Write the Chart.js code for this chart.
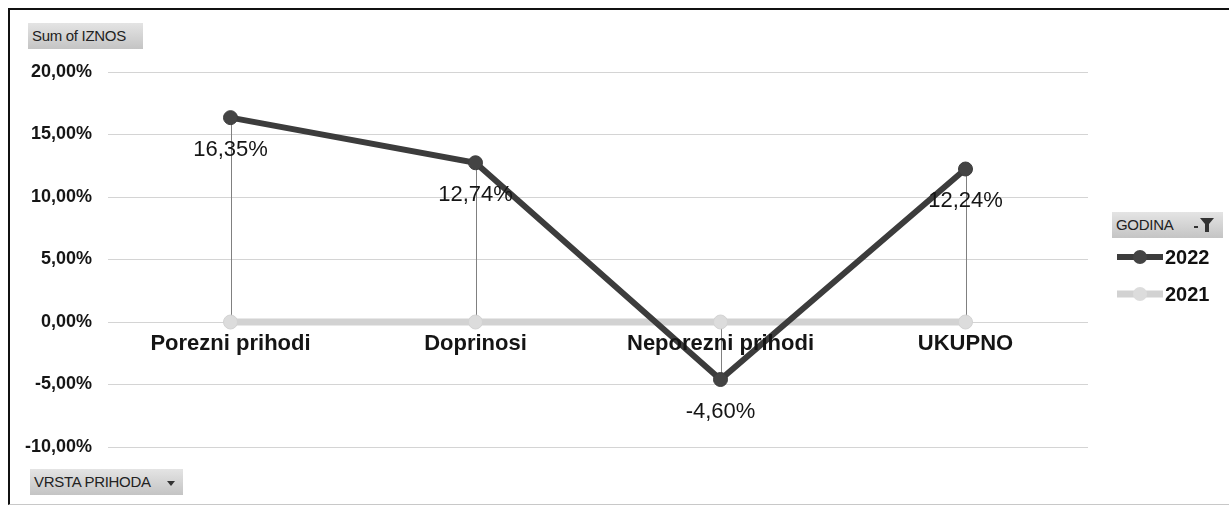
<!DOCTYPE html>
<html>
<head>
    <meta charset="utf-8" />
    <title>Sum of IZNOS</title>
    <script src="https://cdn.jsdelivr.net/npm/chart.js"></script>
    <style>
        body {
            margin: 0;
            background-color: #ffffff;
            font-family: "Liberation Sans", Arial, sans-serif;
        }
        .wrap {
            position: relative;
            width: 1229px;
            height: 507px;
        }
        .frame {
            position: absolute;
            left: 8px;
            top: 8px;
            right: -4px;
            bottom: 2px;
            border-left: 2px solid #111;
            border-top: 2px solid #111;
            border-bottom: 1px solid #c8c8c8;
            pointer-events: none;
        }
        .pill {
            position: absolute;
            background: linear-gradient(#e4e4e4, #c4c4c4);
            color: #222;
            font-size: 15px;
            line-height: 26px;
            padding-left: 4px;
            box-sizing: border-box;
            height: 26px;
            letter-spacing: -0.3px;
        }
        #sumLbl { left: 28px; top: 23px; width: 115px; }
        #vrstaLbl { left: 30px; top: 469px; width: 153px; }
        #godinaLbl { left: 1112px; top: 212px; width: 111px; }
        .pill svg { position: absolute; top: 6px; }
    </style>
</head>
<body>
    <div class="wrap">
        <canvas id="chart"></canvas>
        <div class="frame"></div>
        <div class="pill" id="sumLbl">Sum of IZNOS</div>
        <div class="pill" id="vrstaLbl">VRSTA PRIHODA
            <svg width="10" height="10" style="left:136px;top:9px"><path d="M1 3 L9 3 L5 8 Z" fill="#333"/></svg>
        </div>
        <div class="pill" id="godinaLbl">GODINA
            <svg width="26" height="16" style="left:80px;top:5px">
                <rect x="2" y="9" width="4" height="2" fill="#333"/>
                <path d="M8 1 L22 1 L17 7 L17 15 L13 15 L13 7 Z" fill="#333"/>
            </svg>
        </div>
    </div>
    <script>
        // chart data
        const categories = ['Porezni prihodi', 'Doprinosi', 'Neporezni prihodi', 'UKUPNO'];
        const values2022 = [16.35, 12.74, -4.60, 12.24];
        const values2021 = [0, 0, 0, 0];
        const seriesNames = ['2022', '2021'];
        const yTicks = [-10, -5, 0, 5, 10, 15, 20];

        function pct(v) {
            return v.toFixed(2).replace('.', ',') + '%';
        }

        // thin vertical lines from 2022 points down to zero
        const dropLines = {
            id: 'dropLines',
            beforeDatasetsDraw(chart) {
                const ctx = chart.ctx;
                const y = chart.scales.y;
                const meta = chart.getDatasetMeta(0);
                ctx.save();
                ctx.strokeStyle = '#808080';
                ctx.lineWidth = 1;
                meta.data.forEach((pt) => {
                    ctx.beginPath();
                    ctx.moveTo(Math.round(pt.x) + 0.5, pt.y);
                    ctx.lineTo(Math.round(pt.x) + 0.5, y.getPixelForValue(0));
                    ctx.stroke();
                });
                ctx.restore();
            }
        };

        // category names sit just under the zero line, values under the points
        const labelsPlugin = {
            id: 'labelsPlugin',
            afterDatasetsDraw(chart) {
                const ctx = chart.ctx;
                const x = chart.scales.x;
                const y = chart.scales.y;
                ctx.save();
                ctx.textAlign = 'center';
                ctx.textBaseline = 'middle';
                ctx.fillStyle = '#151515';
                ctx.font = 'bold 22px "Liberation Sans", Arial, sans-serif';
                categories.forEach((c, i) => {
                    ctx.fillText(c, x.getPixelForValue(i), y.getPixelForValue(0) + 22);
                });
                ctx.font = '22px "Liberation Sans", Arial, sans-serif';
                values2022.forEach((v, i) => {
                    ctx.fillText(pct(v), x.getPixelForValue(i), y.getPixelForValue(v) + 32);
                });
                ctx.restore();
            }
        };

        // legend at the right side, under the GODINA button
        const legendPlugin = {
            id: 'legendPlugin',
            afterDraw(chart) {
                const ctx = chart.ctx;
                ctx.save();
                ctx.font = 'bold 20px "Liberation Sans", Arial, sans-serif';
                ctx.textBaseline = 'middle';
                chart.data.datasets.forEach((ds, i) => {
                    const cy = 257 + i * 37;
                    ctx.strokeStyle = ds.borderColor;
                    ctx.lineWidth = ds.borderWidth;
                    ctx.beginPath();
                    ctx.moveTo(1117, cy);
                    ctx.lineTo(1163, cy);
                    ctx.stroke();
                    ctx.fillStyle = ds.pointBackgroundColor;
                    ctx.beginPath();
                    ctx.arc(1140, cy, 7, 0, Math.PI * 2);
                    ctx.fill();
                    ctx.fillStyle = '#111';
                    ctx.fillText(ds.label, 1165, cy + 1);
                });
                ctx.restore();
            }
        };

        const ctx = document.getElementById('chart').getContext('2d');
        new Chart(ctx, {
            type: 'line',
            data: {
                labels: categories,
                datasets: [
                    {
                        label: seriesNames[0],
                        data: values2022,
                        borderColor: '#3c3c3c',
                        backgroundColor: '#3c3c3c',
                        pointBackgroundColor: '#444444',
                        pointBorderColor: '#3c3c3c',
                        borderWidth: 6,
                        pointRadius: 7,
                        pointBorderWidth: 1,
                        tension: 0
                    },
                    {
                        label: seriesNames[1],
                        data: values2021,
                        borderColor: '#d2d2d2',
                        backgroundColor: '#d2d2d2',
                        pointBackgroundColor: '#dcdcdc',
                        pointBorderColor: '#d2d2d2',
                        borderWidth: 7,
                        pointRadius: 7,
                        pointBorderWidth: 1,
                        tension: 0,
                        order: 1
                    }
                ]
            },
            options: {
                responsive: true,
                maintainAspectRatio: false,
                animation: false,
                layout: {
                    padding: { left: 0, right: 141, top: 72, bottom: 60 }
                },
                plugins: {
                    legend: { display: false },
                    tooltip: { enabled: false }
                },
                scales: {
                    x: {
                        display: false,
                        offset: true
                    },
                    y: {
                        min: -10,
                        max: 20,
                        afterBuildTicks(scale) {
                            scale.ticks = yTicks.map(v => ({ value: v }));
                        },
                        afterFit(scale) {
                            scale.width = 108;
                        },
                        border: { display: false },
                        grid: {
                            color: '#d4d4d4',
                            lineWidth: 1,
                            drawTicks: false
                        },
                        ticks: {
                            padding: 16,
                            color: '#151515',
                            font: { family: '"Liberation Sans", Arial, sans-serif', size: 18, weight: 'bold' },
                            callback: (v) => pct(v)
                        }
                    }
                }
            },
            plugins: [dropLines, labelsPlugin, legendPlugin]
        });
    </script>
</body>
</html>
